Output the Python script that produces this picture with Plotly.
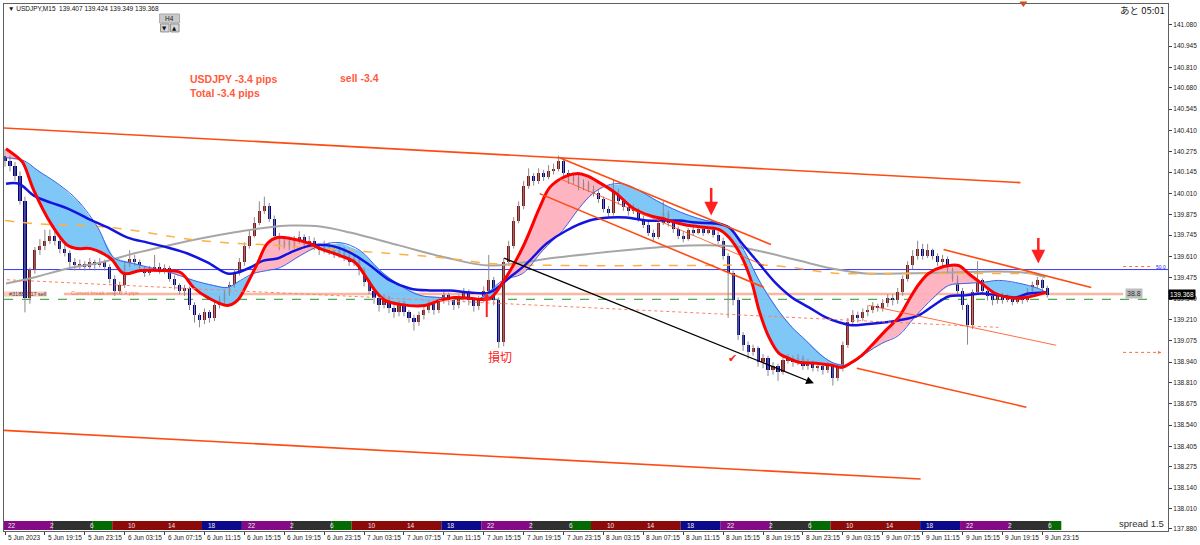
import numpy as np
import plotly.graph_objects as go

# ---------------- data (30-min candles built from the M15 chart, x = M15 bar index) ----------------
first_open = 140.250
close = [
140.218,140.186,140.123,139.965,139.344,139.521,139.648,139.679,139.711,139.743,
139.711,139.660,139.635,139.572,139.553,139.565,139.546,139.572,139.553,139.572,
139.546,139.470,139.394,139.426,139.553,139.597,139.572,139.534,139.508,139.534,
139.546,139.521,139.534,139.470,139.426,139.394,139.407,139.299,139.236,139.204,
139.255,139.217,139.299,139.331,139.375,139.426,139.508,139.572,139.679,139.743,
139.825,139.901,139.933,139.851,139.743,139.679,139.711,139.679,139.711,139.736,
139.686,139.711,139.673,139.648,139.686,139.648,139.622,139.648,139.610,139.572,
139.597,139.521,139.445,139.394,139.344,139.299,139.344,139.280,139.255,139.312,
139.255,139.217,139.192,139.236,139.268,139.306,139.268,139.331,139.363,139.331,
139.299,139.344,139.382,139.331,139.293,139.331,139.394,139.458,139.331,139.065,
139.572,139.679,139.838,139.933,140.060,140.123,140.091,140.142,140.117,140.155,
140.167,140.218,140.142,140.091,140.117,140.053,140.079,140.041,140.015,139.977,
139.914,139.889,140.028,139.965,139.927,139.901,139.914,139.851,139.813,139.762,
139.736,139.825,139.889,139.825,139.787,139.743,139.724,139.775,139.762,139.787,
139.762,139.781,139.749,139.711,139.616,139.508,139.331,139.109,139.046,139.001,
139.027,138.938,138.963,138.887,138.913,138.875,138.951,138.963,138.938,138.963,
138.913,138.938,138.900,138.913,138.887,138.913,138.837,138.900,139.046,139.192,
139.236,139.217,139.255,139.268,139.293,139.280,139.312,139.344,139.331,139.382,
139.470,139.553,139.616,139.660,139.616,139.648,139.610,139.572,139.597,139.521,
139.470,139.394,139.299,139.173,139.382,139.458,139.394,139.356,139.331,139.363,
139.331,139.350,139.318,139.344,139.331,139.394,139.426,139.458,139.407,139.368]
high = [
140.29,140.25,140.21,140.15,139.99,139.54,139.67,139.72,139.78,139.78,
139.77,139.73,139.70,139.65,139.60,139.59,139.58,139.60,139.59,139.60,
139.59,139.56,139.49,139.45,139.58,139.65,139.62,139.59,139.55,139.55,
139.62,139.57,139.56,139.55,139.49,139.44,139.43,139.42,139.32,139.25,
139.28,139.27,139.32,139.36,139.40,139.45,139.53,139.60,139.70,139.78,
139.86,139.96,139.99,139.95,139.87,139.76,139.74,139.73,139.74,139.77,
139.75,139.74,139.73,139.69,139.71,139.70,139.67,139.68,139.67,139.63,
139.62,139.61,139.54,139.46,139.41,139.36,139.37,139.36,139.30,139.33,
139.33,139.27,139.24,139.26,139.29,139.33,139.32,139.35,139.39,139.38,
139.35,139.37,139.41,139.40,139.35,139.36,139.42,139.62,139.48,139.35,
139.60,139.71,139.86,139.96,140.09,140.17,140.14,140.17,140.16,140.19,
140.20,140.25,140.24,140.16,140.14,140.13,140.10,140.09,140.06,140.03,
139.99,139.93,140.10,140.04,139.98,139.94,139.94,139.92,139.87,139.83,
139.78,139.85,139.96,139.90,139.84,139.80,139.77,139.79,139.80,139.81,
139.80,139.80,139.80,139.77,139.73,139.63,139.52,139.35,139.13,139.07,
139.05,139.04,138.99,138.98,138.94,138.93,138.98,138.99,138.98,138.99,
138.98,138.96,138.95,138.93,138.93,138.94,138.92,138.92,139.07,139.22,
139.27,139.26,139.28,139.30,139.32,139.31,139.34,139.37,139.37,139.41,
139.49,139.58,139.65,139.71,139.69,139.69,139.66,139.63,139.62,139.61,
139.54,139.49,139.41,139.31,139.40,139.58,139.47,139.41,139.37,139.38,
139.38,139.37,139.36,139.36,139.36,139.41,139.45,139.48,139.47,139.424]
low = [
140.18,140.15,140.09,139.94,139.255,139.31,139.50,139.62,139.65,139.69,
139.68,139.63,139.61,139.54,139.52,139.53,139.52,139.53,139.52,139.54,
139.52,139.44,139.36,139.37,139.41,139.54,139.55,139.51,139.48,139.49,
139.52,139.50,139.50,139.45,139.40,139.37,139.36,139.27,139.19,139.16,
139.18,139.19,139.20,139.28,139.31,139.36,139.41,139.49,139.55,139.66,
139.73,139.81,139.88,139.83,139.72,139.65,139.66,139.65,139.66,139.69,
139.66,139.67,139.65,139.62,139.63,139.62,139.60,139.60,139.58,139.55,
139.55,139.49,139.42,139.37,139.31,139.26,139.28,139.25,139.22,139.23,
139.23,139.19,139.14,139.17,139.21,139.25,139.24,139.25,139.31,139.30,
139.27,139.28,139.33,139.30,139.26,139.27,139.32,139.38,139.30,139.03,
139.04,139.55,139.66,139.82,139.91,140.04,140.06,140.07,140.09,140.10,
140.13,140.15,140.12,140.07,140.07,140.03,140.03,140.02,139.99,139.95,
139.89,139.86,139.87,139.94,139.90,139.87,139.88,139.83,139.79,139.74,
139.70,139.72,139.81,139.80,139.76,139.72,139.70,139.71,139.74,139.75,
139.74,139.75,139.73,139.69,139.59,139.22,139.30,139.08,139.01,138.96,
138.98,138.91,138.90,138.85,138.86,138.82,138.86,138.93,138.91,138.92,
138.89,138.89,138.88,138.88,138.86,138.87,138.79,138.82,138.88,139.03,
139.17,139.19,139.20,139.23,139.25,139.26,139.26,139.29,139.30,139.31,
139.36,139.45,139.53,139.59,139.59,139.60,139.59,139.55,139.55,139.50,
139.45,139.37,139.27,139.05,139.15,139.37,139.37,139.33,139.30,139.31,
139.31,139.32,139.30,139.31,139.31,139.32,139.38,139.41,139.39,139.349]

# moving averages (bar index, price)
red_i = [0.4,5.2,7.2,11.6,18.4,25.2,29.2,34.4,42.4,47.6,54.4,62.4,70.4,75.6,81.2,89.2,93.2,97.2,101.2,105.2,
         109.2,114.4,122.4,126.4,134.4,140.4,144.4,148.4,152.4,158.4,168.4,174.4,180.4,186.4,194.4,199.6,207.6,
         214.4,218.4,223.6,229.2,233.2,238.4,245.2,251.6,258.4,263.6,269.2,274.4,281.2,286.4,290.4,295.6,299.6,
         302.4,306.4,310.4,314.4,318.4,325.2,331.6,335.6,339.6,343.6,347.6,353.2,358.4,362.4,366.4,370.4,376.4,
         382.4,386.4,391.6,397.2,402.4,409.2,413.2,417.6]
red_p = [140.294,140.237,140.205,140.028,139.819,139.679,139.660,139.660,139.597,139.502,139.521,139.521,139.508,
         139.413,139.350,139.299,139.331,139.439,139.565,139.692,139.730,139.724,139.692,139.660,139.616,139.572,
         139.489,139.394,139.331,139.306,139.299,139.331,139.350,139.344,139.344,139.445,139.667,139.920,140.047,
         140.110,140.136,140.123,140.079,140.009,139.920,139.870,139.851,139.825,139.806,139.794,139.781,139.730,
         139.603,139.439,139.268,139.096,138.995,138.963,138.938,138.932,138.919,138.906,138.938,138.982,139.046,
         139.141,139.223,139.331,139.432,139.502,139.546,139.553,139.502,139.439,139.375,139.350,139.350,139.363,
         139.382]
thin_i = [0.4,7.6,13.2,21.2,29.2,37.2,43.6,51.6,59.6,67.6,75.6,83.6,89.2,94.4,99.6,105.2,110.4,118.4,126.4,134.4,
          142.4,150.4,158.4,166.4,174.4,182.4,190.4,199.6,207.6,215.6,223.6,230.4,235.6,241.2,247.6,254.4,261.2,
          267.6,274.4,281.2,287.6,290.4,296.4,302.4,309.2,315.6,321.2,326.4,331.6,336.4,340.4,345.2,351.6,358.4,
          364.4,370.4,378.4,385.2,391.6,398.4,405.2,410.4,414.4,417.6]
thin_p = [140.237,140.218,140.155,140.072,139.965,139.794,139.603,139.565,139.534,139.502,139.458,139.426,139.413,
          139.458,139.502,139.521,139.540,139.616,139.679,139.698,139.648,139.521,139.426,139.363,139.350,139.344,
          139.344,139.458,139.502,139.648,139.775,139.920,140.009,140.060,140.072,140.028,139.965,139.914,139.870,
          139.838,139.819,139.787,139.648,139.458,139.287,139.160,139.077,138.995,138.938,138.919,138.938,138.995,
          139.058,139.109,139.217,139.318,139.426,139.439,139.445,139.458,139.445,139.426,139.407,139.382]
blue_i = [0.4,5.6,11.6,18.4,25.2,33.2,41.2,49.2,57.2,65.2,73.2,81.2,89.2,93.2,98.4,103.6,109.2,114.4,122.4,130.4,
          138.4,146.4,154.4,162.4,170.4,178.4,186.4,194.4,202.4,209.2,217.2,225.2,234.4,242.4,249.2,257.2,263.6,
          270.4,277.2,285.2,290.4,295.6,302.4,309.2,315.6,322.4,329.2,334.4,339.6,345.2,353.2,358.4,366.4,372.4,
          378.4,385.2,391.6,398.4,405.2,410.4,417.2]
blue_p = [140.072,140.072,139.996,139.952,139.914,139.851,139.794,139.730,139.698,139.667,139.629,139.572,139.502,
          139.508,139.540,139.584,139.597,139.635,139.679,139.679,139.635,139.553,139.458,139.407,139.394,139.394,
          139.382,139.382,139.477,139.565,139.692,139.775,139.838,139.857,139.857,139.838,139.838,139.838,139.825,
          139.819,139.794,139.692,139.565,139.439,139.350,139.287,139.223,139.192,139.173,139.179,139.192,139.204,
          139.236,139.299,139.356,139.363,139.375,139.363,139.350,139.375,139.382]
gray_i = [0.4,11.6,25.2,38.4,51.6,65.2,78.4,91.6,105.2,114.4,126.4,138.4,158.4,178.4,194.4,221.2,247.6,274.4,
          286.4,295.6,305.2,318.4,331.6,345.2,358.4,378.4,398.4,411.6,417.2]
gray_p = [139.439,139.477,139.534,139.572,139.629,139.679,139.724,139.762,139.794,139.806,139.800,139.762,139.679,
          139.597,139.553,139.603,139.648,139.679,139.679,139.667,139.635,139.584,139.534,139.502,139.502,139.508,
          139.515,139.502,139.477]
orng_i = [0.0,11.6,42.4,78.4,109.2,138.4,178.4,194.4,222.4,278.4,307.6,334.4,349.2,417.2]
orng_p = [139.838,139.819,139.794,139.711,139.679,139.648,139.597,139.565,139.553,139.553,139.553,139.502,139.502,139.502]

# hand-drawn trend lines (bar index, price endpoints)
trend_i0 = [-1.6, -1.6, 222.4, 214.4, 222.4, 376.4, 341.6, 346.4]
trend_p0 = [140.427, 138.507, 140.237, 140.009, 140.104, 139.654, 138.900, 139.299]
trend_i1 = [407.2, 367.2, 307.2, 304.4, 304.4, 435.6, 409.6, 421.6]
trend_p1 = [140.079, 138.197, 139.686, 139.413, 139.553, 139.413, 138.653, 139.046]
dotted_i = [-1.6, 398.4]
dotted_p = [139.464, 139.160]
black_arrow_i = [199.6, 324.4]
black_arrow_p = [139.603, 138.805]

level_fib = 139.527
level_be = 139.372
level_entry = 139.337
level_tp_a = 139.546
level_tp_b = 139.001
last_price = 139.368

y_ticks = [141.080,140.945,140.810,140.680,140.545,140.410,140.275,140.145,140.010,139.875,139.745,139.610,
           139.475,139.340,139.210,139.075,138.940,138.810,138.675,138.540,138.405,138.275,138.140,138.010,137.880]
x_tick_labels = ["5 Jun 2023","5 Jun 19:15","5 Jun 23:15","6 Jun 03:15","6 Jun 07:15","6 Jun 11:15","6 Jun 15:15",
                 "6 Jun 19:15","6 Jun 23:15","7 Jun 03:15","7 Jun 07:15","7 Jun 11:15","7 Jun 15:15","7 Jun 19:15",
                 "7 Jun 23:15","8 Jun 03:15","8 Jun 07:15","8 Jun 11:15","8 Jun 15:15","8 Jun 19:15","8 Jun 23:15",
                 "9 Jun 03:15","9 Jun 07:15","9 Jun 11:15","9 Jun 15:15","9 Jun 19:15","9 Jun 23:15"]
session_labels = ["22", "2", "6", "10", "14", "18"]

# ---------------- geometry helpers ----------------
W, H = 1200, 545
ML, MR, MT, MB = 3, 30, 3, 14
PX_PER_BAR = 2.5
X0 = -0.4
X1 = X0 + (W - ML - MR) / PX_PER_BAR
Y0, Y1 = 137.867, 141.213


def P(px, py):
    return (px - ML) / (W - ML - MR), (H - MB - py) / (H - MT - MB)


fig = go.Figure()

# ---- cloud fills ----
grid = np.arange(0.4, 417.61, 0.4)
rg = np.interp(grid, red_i, red_p)
tg = np.interp(grid, thin_i, thin_p)
lo = np.minimum(rg, tg)
fig.add_trace(go.Scatter(x=grid, y=lo, mode="lines", line=dict(width=0), hoverinfo="skip", showlegend=False))
fig.add_trace(go.Scatter(x=grid, y=rg, mode="lines", line=dict(width=0), fill="tonexty",
                         fillcolor="rgba(255,176,190,0.95)", hoverinfo="skip", showlegend=False))
fig.add_trace(go.Scatter(x=grid, y=lo, mode="lines", line=dict(width=0), hoverinfo="skip", showlegend=False))
fig.add_trace(go.Scatter(x=grid, y=tg, mode="lines", line=dict(width=0), fill="tonexty",
                         fillcolor="rgba(120,196,245,0.95)", hoverinfo="skip", showlegend=False))

# ---- candles ----
xs = [2 * k for k in range(len(close))]
opens = [first_open] + close[:-1]
wx, wy = [], []
for x, h, l in zip(xs, high, low):
    wx += [x, x, None]
    wy += [l, h, None]
fig.add_trace(go.Scatter(x=wx, y=wy, mode="lines", line=dict(color="#8a8a8a", width=1),
                         hoverinfo="skip", showlegend=False))
for up, col in ((True, "#8B1212"), (False, "#00008E")):
    bx, bb, bh = [], [], []
    for x, o, c in zip(xs, opens, close):
        if (c >= o) == up:
            bx.append(x)
            bb.append(min(o, c))
            bh.append(max(abs(c - o), 0.004))
    fig.add_trace(go.Bar(x=bx, y=bh, base=bb, width=1.25, marker=dict(color=col, line=dict(width=0)),
                         hoverinfo="skip", showlegend=False))

# ---- moving averages ----
fig.add_trace(go.Scatter(x=gray_i, y=gray_p, mode="lines", line=dict(color="#a6a6a6", width=2, shape="spline"),
                         hoverinfo="skip", showlegend=False))
fig.add_trace(go.Scatter(x=orng_i, y=orng_p, mode="lines",
                         line=dict(color="#FFB040", width=1.5, dash="dash", shape="spline"),
                         hoverinfo="skip", showlegend=False))
fig.add_trace(go.Scatter(x=thin_i, y=thin_p, mode="lines", line=dict(color="#3C64E6", width=1, shape="spline"),
                         hoverinfo="skip", showlegend=False))
fig.add_trace(go.Scatter(x=blue_i, y=blue_p, mode="lines", line=dict(color="#1414E0", width=2.5, shape="spline"),
                         hoverinfo="skip", showlegend=False))
fig.add_trace(go.Scatter(x=red_i, y=red_p, mode="lines", line=dict(color="#FF0000", width=3, shape="spline"),
                         hoverinfo="skip", showlegend=False))

shapes = []
annos = []

# ---- horizontal levels ----
shapes.append(dict(type="line", xref="paper", yref="y", x0=0, x1=1, y0=level_fib, y1=level_fib,
                   line=dict(color="#3A3AFF", width=1), layer="below"))
shapes.append(dict(type="line", xref="x", yref="y", x0=23.6, x1=448.4, y0=level_be, y1=level_be,
                   line=dict(color="rgba(250,150,120,0.7)", width=2.5), layer="below"))
shapes.append(dict(type="line", xref="x", yref="y", x0=-0.4, x1=16.8, y0=level_be, y1=level_be,
                   line=dict(color="rgba(250,190,170,0.8)", width=5), layer="below"))
shapes.append(dict(type="line", xref="x", yref="y", x0=-0.4, x1=460.4, y0=level_entry, y1=level_entry,
                   line=dict(color="#4CAF50", width=1.3, dash="dash"), layer="below"))
shapes.append(dict(type="line", xref="x", yref="y", x0=448.4, x1=460.4, y0=level_tp_a, y1=level_tp_a,
                   line=dict(color="#FF6A3A", width=1, dash="dot")))
shapes.append(dict(type="line", xref="x", yref="y", x0=448.4, x1=463.6, y0=level_tp_b, y1=level_tp_b,
                   line=dict(color="#FF6A3A", width=1, dash="dot")))
# dotted sloping line
shapes.append(dict(type="line", xref="x", yref="y", x0=dotted_i[0], x1=dotted_i[1], y0=dotted_p[0],
                   y1=dotted_p[1], line=dict(color="#FF8060", width=1, dash="dot")))
# trend lines
tl_w = [1.6, 1.6, 1.6, 1.6, 0.8, 1.6, 1.6, 0.8]
for a, b, c, d, w in zip(trend_i0, trend_p0, trend_i1, trend_p1, tl_w):
    shapes.append(dict(type="line", xref="x", yref="y", x0=a, y0=b, x1=c, y1=d,
                       line=dict(color="#FF4A10", width=w)))

# ---- session strip ----
def sess_color(h):
    if h in (21, 22, 23, 0, 1):
        return "#850A85"
    if h in (2, 3, 4, 5):
        return "#303030"
    if h in (6, 7):
        return "#046A04"
    if 8 <= h <= 16:
        return "#8B0A0A"
    return "#0A0A8B"

strip_end = 423.6
sy0, sy1 = P(0, 530)[1], P(0, 521)[1]
segs = []
n = 0
while -1 + 4 * n < strip_end:
    s = -1 + 4 * n
    e = min(s + 4, strip_end)
    colr = sess_color((21 + n) % 24)
    if segs and segs[-1][2] == colr:
        segs[-1][1] = e
    else:
        segs.append([max(s, X0), e, colr])
    n += 1
for s, e, colr in segs:
    shapes.append(dict(type="rect", xref="x", yref="paper", x0=s, x1=e, y0=sy0, y1=sy1,
                       fillcolor=colr, line=dict(width=0)))
for m in range(27):
    annos.append(dict(x=3 + 16 * m, y=(sy0 + sy1) / 2, xref="x", yref="paper", text=session_labels[m % 6],
                      showarrow=False, font=dict(size=6.5, color="#E8E8E8", family="Liberation Sans"),
                      xanchor="center", yanchor="middle"))

# ---- x tick labels (left-aligned, MT4 style) ----
for m, lab in enumerate(x_tick_labels):
    annos.append(dict(x=16 * m + 0.4, y=P(0, 537.5)[1], xref="x", yref="paper", text=lab, showarrow=False,
                      font=dict(size=6.5, color="#202020", family="Liberation Sans"),
                      xanchor="left", yanchor="middle"))

# ---- arrows ----
annos.append(dict(x=black_arrow_i[1], y=black_arrow_p[1], ax=black_arrow_i[0], ay=black_arrow_p[0],
                  xref="x", yref="y", axref="x", ayref="y", text="", showarrow=True, arrowhead=2,
                  arrowsize=1.2, arrowwidth=1.3, arrowcolor="#000000"))
annos.append(dict(x=283.2, y=139.870, ax=0, ay=-29, xref="x", yref="y", text="", showarrow=True,
                  arrowhead=2, arrowsize=1.1, arrowwidth=2.5, arrowcolor="#FF2020"))
annos.append(dict(x=414.4, y=139.565, ax=0, ay=-27, xref="x", yref="y", text="", showarrow=True,
                  arrowhead=2, arrowsize=1.1, arrowwidth=2.5, arrowcolor="#FF2020"))
annos.append(dict(x=193.2, y=139.382, ax=0, ay=26, xref="x", yref="y", text="", showarrow=True,
                  arrowhead=2, arrowsize=0.8, arrowwidth=2, arrowcolor="#FF2020"))
annos.append(dict(x=463.6, y=level_tp_b, ax=-4, ay=0, xref="x", yref="y", text="", showarrow=True,
                  arrowhead=2, arrowsize=0.6, arrowwidth=1, arrowcolor="#FF6A3A"))

# ---- chart texts ----
def txt(px, py, s, size, color, anchor="left", family="Liberation Sans", bold=False, bg=None):
    x, y = P(px, py)
    d = dict(x=x, y=y, xref="paper", yref="paper", text=("<b>%s</b>" % s) if bold else s,
             showarrow=False, xanchor=anchor, yanchor="middle",
             font=dict(size=size, color=color, family=family))
    if bg:
        d.update(bgcolor=bg, borderpad=1)
    annos.append(d)

txt(5, 7.5, "▼ USDJPY,M15  139.407 139.424 139.349 139.368", 6.5, "#101010")
txt(1169, 9, "あと 05:01", 9.5, "#202020", anchor="right", family="Noto Sans CJK JP")
txt(187, 78, "USDJPY -3.4 pips", 10.5, "#FF5A3C", bold=True)
txt(187, 92, "Total -3.4 pips", 10.5, "#FF5A3C", bold=True)
txt(338, 77, "sell -3.4", 10.5, "#FF5A3C", bold=True)
txt(1168, 523, "spread 1.5", 9.5, "#303030", anchor="right")
txt(6, 294, "#31885717 sell", 5.5, "#404040")
txt(68, 293, "Current break even 3.4 pips", 5.5, "#F07A5A")
txt(1136, 293, "38.8", 7, "#303030", anchor="center", bg="#BEBEBE")
txt(1163, 266, "50.0", 5, "#2020FF", anchor="center")
txt(500, 356, "損切", 12, "#FF2020", anchor="center", family="Noto Sans CJK JP")
txt(733, 358, "✔", 11, "#FF2020", anchor="center", family="DejaVu Sans")

# price tag on axis
annos.append(dict(x=1.0, y=last_price, xref="paper", yref="y", text="139.368", showarrow=False,
                  xanchor="left", yanchor="middle", bgcolor="#000000", borderpad=1,
                  font=dict(size=6.5, color="#FFFFFF", family="Liberation Sans")))

# H4 widget
def rect(px0, py0, px1, py1, fill, line):
    a0, b0 = P(px0, py0)
    a1, b1 = P(px1, py1)
    shapes.append(dict(type="rect", xref="paper", yref="paper", x0=a0, x1=a1, y0=b1, y1=b0,
                       fillcolor=fill, line=dict(color=line, width=1)))

rect(159, 13, 179, 22, "#C9C9C9", "#A8A8A8")
rect(160, 23, 168.5, 31, "#D6D6D6", "#8E8E8E")
rect(170, 23, 178.5, 31, "#D6D6D6", "#8E8E8E")
txt(169, 17.5, "H4", 6.5, "#202020", anchor="center")
txt(164.3, 27, "▼", 5.5, "#101010", anchor="center", family="DejaVu Sans")
txt(174.3, 27, "▲", 5.5, "#101010", anchor="center", family="DejaVu Sans")

# small marker at top
a0, b0 = P(1021, 0.5)
a1, b1 = P(1029, 0.5)
a2, b2 = P(1025, 6)
shapes.append(dict(type="path", xref="paper", yref="paper",
                   path="M %f %f L %f %f L %f %f Z" % (a0, b0, a1, b1, a2, b2),
                   fillcolor="#C8501A", line=dict(width=0)))

fig.update_layout(
    width=W, height=H,
    margin=dict(l=ML, r=MR, t=MT, b=MB, pad=0),
    paper_bgcolor="#FFFFFF", plot_bgcolor="#FFFFFF",
    barmode="overlay", bargap=0,
    showlegend=False,
    shapes=shapes, annotations=annos,
    xaxis=dict(range=[X0, X1], showgrid=False, zeroline=False, showline=True, linecolor="#606060",
               linewidth=1, mirror=True, ticks="outside", ticklen=3, tickcolor="#404040",
               tickvals=[16 * m for m in range(27)], showticklabels=False, fixedrange=True),
    yaxis=dict(range=[Y0, Y1], side="right", showgrid=False, zeroline=False, showline=True,
               linecolor="#606060", linewidth=1, mirror=True, ticks="outside", ticklen=3,
               tickcolor="#404040", tickvals=y_ticks, ticktext=["%.3f" % v for v in y_ticks],
               tickfont=dict(size=6.5, color="#202020", family="Liberation Sans"), fixedrange=True),
)

fig.write_html("out.html", config={"displayModeBar": False},
               post_script="document.body.style.margin='0';document.body.style.padding='0';")
